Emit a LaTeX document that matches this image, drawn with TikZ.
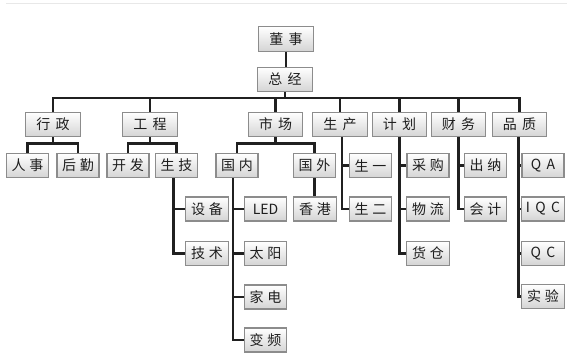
\documentclass[tikz,border=0pt]{standalone}
\usepackage{fontspec}
\setmainfont{Noto Sans CJK SC}
\definecolor{boxline}{RGB}{140,140,140}
\definecolor{boxbot}{RGB}{212,212,212}
\definecolor{connc}{RGB}{32,32,32}
\definecolor{txt}{RGB}{30,30,30}
\definecolor{topline}{RGB}{232,232,232}
\begin{document}
\begin{tikzpicture}[x=0.75pt,y=-0.75pt,
  box/.style={draw=boxline, line width=0.8pt, top color=white, bottom color=boxbot,
    inner sep=0pt, font=\fontsize{10.5pt}{12pt}\selectfont, text=txt},
  big/.style={box, minimum width=41pt, minimum height=18.5pt},
  mid/.style={box, minimum width=31.5pt, minimum height=18.5pt},
  small/.style={box, minimum width=32pt, minimum height=18pt},
  conn/.style={draw=connc, line width=2.2pt}]
\useasboundingbox (0,0) rectangle (579,359);
\draw[topline, line width=0.75pt] (6,4) -- (567,4);

% level 0/1
\node[big] (dongshi) at (286,39) {董\hspace{4pt}事};
\node[big] (zongjing) at (285,79.5) {总\hspace{4pt}经};
% level 2
\node[big] (xingzheng) at (53,124.5) {行\hspace{4pt}政};
\node[big] (gongcheng) at (150,124.5) {工\hspace{4pt}程};
\node[big] (shichang) at (275.5,124.5) {市\hspace{4pt}场};
\node[big] (shengchan) at (340,124.5) {生\hspace{4pt}产};
\node[big] (jihua) at (399.5,124.5) {计\hspace{4pt}划};
\node[big] (caiwu) at (458.5,124.5) {财\hspace{4pt}务};
\node[big] (pinzhi) at (519.5,124.5) {品\hspace{4pt}质};
% level 3
\node[mid] (renshi) at (27.5,165.5) {人\hspace{3pt}事};
\node[mid] (houqin) at (78,165.5) {后\hspace{3pt}勤};
\node[mid] (kaifa) at (128,165.5) {开\hspace{3pt}发};
\node[mid] (shengji) at (176.5,165.5) {生\hspace{3pt}技};
\node[mid] (guonei) at (237,165.5) {国\hspace{3pt}内};
\node[mid] (guowai) at (314.5,165.5) {国\hspace{3pt}外};
\node[mid] (shengyi) at (370.5,165.5) {生\hspace{3pt}一};
\node[mid] (caigou) at (428,165.5) {采\hspace{3pt}购};
\node[mid] (chuna) at (485.5,165.5) {出\hspace{3pt}纳};
\node[mid] (qa) at (543,165.5) {Q\hspace{4pt}A};
% children
\node[small] (shebei) at (207,209) {设\hspace{3pt}备};
\node[small] (jishu) at (207,253.5) {技\hspace{3pt}术};
\node[small] (led) at (265.5,209) {LED};
\node[small] (taiyang) at (265.5,253.5) {太\hspace{3pt}阳};
\node[small] (jiadian) at (265.5,297) {家\hspace{3pt}电};
\node[small] (bianpin) at (265.5,340) {变\hspace{3pt}频};
\node[small] (xianggang) at (315,209) {香\hspace{3pt}港};
\node[small] (shenger) at (370.5,209) {生\hspace{3pt}二};
\node[small] (wuliu) at (428,209) {物\hspace{3pt}流};
\node[small] (huocang) at (428,253.5) {货\hspace{3pt}仓};
\node[small] (kuaiji) at (485.5,209) {会\hspace{3pt}计};
\node[small] (iqc) at (543,209) {I\hspace{4pt}Q\hspace{4pt}C};
\node[small] (qc) at (543,253.5) {Q\hspace{4pt}C};
\node[small] (shiyan) at (543,296.5) {实\hspace{3pt}验};

% connectors: top
\coordinate (bus) at (0,98);
\draw[conn] (dongshi.south) -- (dongshi.south |- zongjing.north);
\draw[conn] (zongjing.south) -- (zongjing.south |- bus);
\draw[conn] (xingzheng.north) -- (xingzheng.north |- bus) -| (pinzhi.north);
\foreach \n in {gongcheng,shichang,shengchan,jihua,caiwu}
  \draw[conn] (\n.north) -- (\n.north |- bus);

% two-child groups
\draw[conn] (xingzheng.south) -- ++(0,7);
\draw[conn] (renshi.north) -- ++(0,-9) -| (houqin.north);
\draw[conn] (gongcheng.south) -- ++(0,7);
\draw[conn] (kaifa.north) -- ++(0,-9) -| (shengji.north);
\draw[conn] (shichang.south) -- ++(0,7);
\draw[conn] (guonei.north) -- ++(0,-9) -| (guowai.north);

% vertical lists
\coordinate (sjt) at ([xshift=-2.5pt]shengji.south);
\draw[conn] (sjt) |- (jishu.west);
\draw[conn] (sjt |- shebei.west) -- (shebei.west);

\coordinate (gnt) at ([xshift=-3pt]guonei.south);
\draw[conn] (gnt) |- (bianpin.west);
\foreach \n in {led,taiyang,jiadian}
  \draw[conn] (gnt |- \n.west) -- (\n.west);

\draw[conn] (guowai.south) -- (guowai.south |- xianggang.north);

\coordinate (sct) at ([xshift=1.5pt]shengchan.south);
\draw[conn] (sct) |- (shenger.west);
\draw[conn] (sct |- shengyi.west) -- (shengyi.west);

\draw[conn] (jihua.south) |- (huocang.west);
\foreach \n in {caigou,wuliu}
  \draw[conn] (jihua.south |- \n.west) -- (\n.west);

\draw[conn] (caiwu.south) |- (kuaiji.west);
\draw[conn] (caiwu.south |- chuna.west) -- (chuna.west);

\coordinate (pzt) at ([xshift=-1pt]pinzhi.south);
\draw[conn] (pzt) |- (shiyan.west);
\foreach \n in {qa,iqc,qc}
  \draw[conn] (pzt |- \n.west) -- (\n.west);
\end{tikzpicture}
\end{document}
